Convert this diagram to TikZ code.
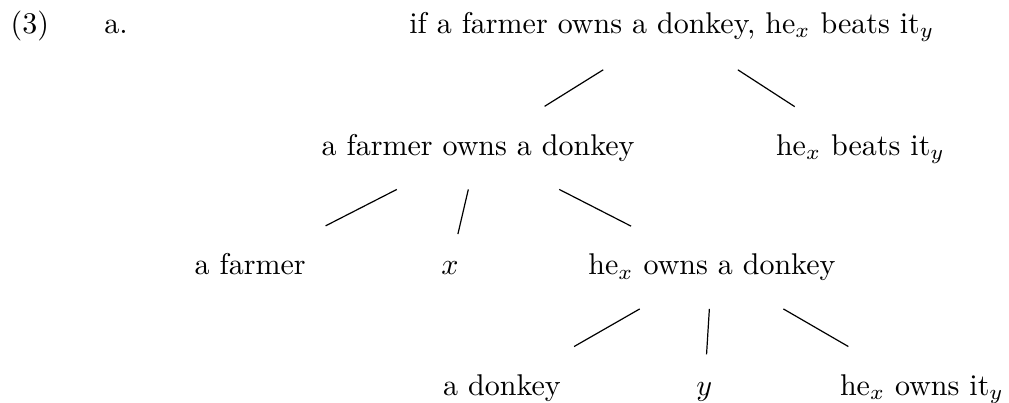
\documentclass[tikz,border=0pt]{standalone}
\usepackage{amsmath, amssymb}
\usepackage{tikz}
\usetikzlibrary{positioning, calc}

\begin{document}
\begin{tikzpicture}[
    word/.style={anchor=base, inner sep=0pt, outer sep=9.3pt}]
    \useasboundingbox (0, 0) rectangle (11.82, -4.72);
    % Example number
    \node[anchor=base] (num) at (0.35, -0.39) {(3)};
    \node[anchor=base] (item) at (1.36, -0.39) {a.};

    % Nodes
    \node[word] (root) at (7.87, -0.39) {if a farmer owns a donkey, he$_x$ beats it$_y$};
    \node[word] (ant) at (5.60, -1.82) {a farmer owns a donkey};
    \node[word] (cons) at (10.08, -1.82) {he$_x$ beats it$_y$};
    \node[word] (farmer) at (2.93, -3.22) {a farmer};
    \node[word] (varx) at (5.27, -3.22) {$x$};
    \node[word] (owns) at (8.34, -3.22) {he$_x$ owns a donkey};
    \node[word] (donkey) at (5.88, -4.63) {a donkey};
    \node[word] (vary) at (8.25, -4.63) {$y$};
    \node[word] (ownsit) at (10.80, -4.63) {he$_x$ owns it$_y$};

    % Edges
    \draw (root) -- (ant);
    \draw (root) -- (cons);
    \draw (ant) -- (farmer);
    \draw (ant) -- (varx);
    \draw (ant) -- (owns);
    \draw (owns) -- (donkey);
    \draw (owns) -- (vary);
    \draw (owns) -- (ownsit);
\end{tikzpicture}
\end{document}
